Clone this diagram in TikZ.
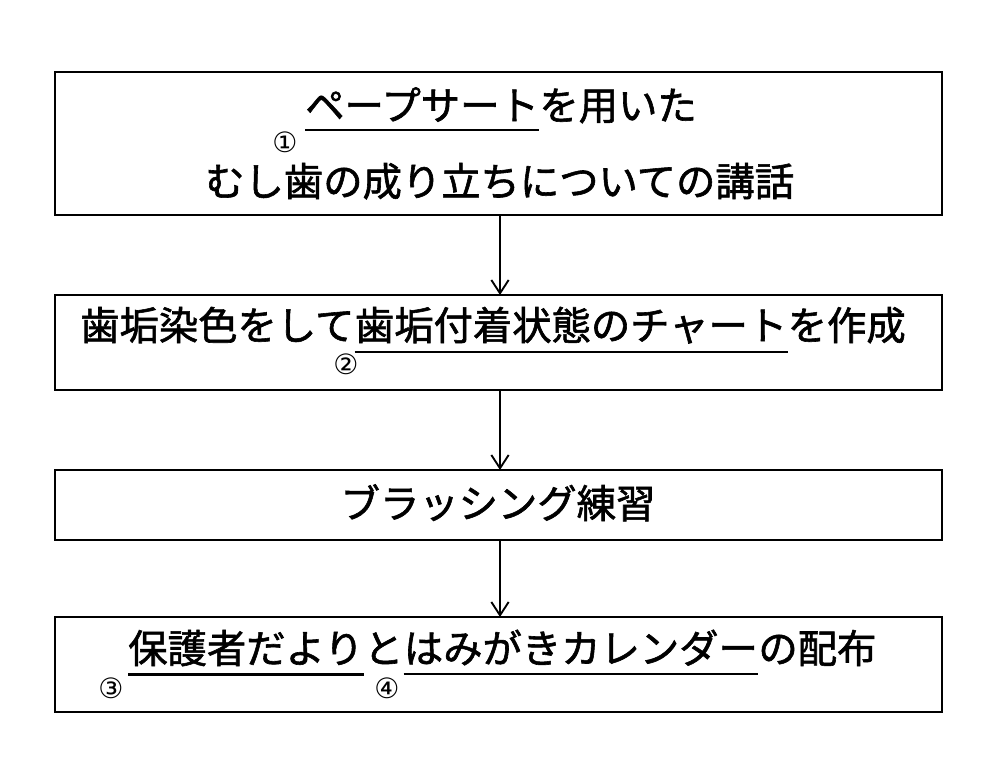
\documentclass[tikz,border=0pt]{standalone}
\usepackage{fontspec}
\usetikzlibrary{arrows.meta}
\newfontfamily\jp[FakeBold=1.5]{Noto Sans CJK JP}
\newfontfamily\dv{DejaVu Sans}
\begin{document}
\begin{tikzpicture}[x=0.75pt,y=-0.75pt,
 box/.style={draw,line width=1.6pt},
 t/.style={font=\jp\fontsize{29.5}{29.5}\selectfont,inner sep=0pt,anchor=base west},
 c/.style={font=\dv\fontsize{21}{21}\selectfont,inner sep=0pt},
 ul/.style={line width=1.6pt},
 ar/.style={-{Straight Barb[length=10pt,width=13pt]},line width=1.4pt}]
\useasboundingbox (0,0) rectangle (1000,767);
\draw[box] (55,72) rectangle (942,215);
\draw[box] (55,295) rectangle (942,390);
\draw[box] (55,470) rectangle (942,540);
\draw[box] (55,617) rectangle (942,712);
\coordinate (b1) at (500,215); \coordinate (t2) at (500,295);
\coordinate (b2) at (500,390); \coordinate (t3) at (500,470);
\coordinate (b3) at (500,540); \coordinate (t4) at (500,617);
\draw[ar] (b1)--(t2); \draw[ar] (b2)--(t3); \draw[ar] (b3)--(t4);
% box1
\node[t] (a1) at (305,120) {ペープサート};
\node[t] (a2) at (a1.base east) {を用いた};
\draw[ul] ([yshift=-6pt]a1.south west) -- ([yshift=-6pt]a1.south east);
\node[c] (n1) at (285,142) {①};
\node[t] (a3) at (205,196) {むし歯の成り立ちについての講話};
% box2
\node[t] (b1t) at (80,340) {歯垢染色をして};
\node[t] (b2t) at (b1t.base east) {歯垢付着状態のチャート};
\node[t] (b3t) at (b2t.base east) {を作成};
\draw[ul] ([yshift=-6pt]b2t.south west) -- ([yshift=-6pt]b2t.south east);
\node[c] (n2) at (346,364) {②};
% box3
\node[t,anchor=base] (c1) at (498,518) {ブラッシング練習};
% box4
\node[t] (d1) at (128,663) {保護者だより};
\node[t] (d2) at (d1.base east) {と};
\node[t] (d3) at (d2.base east) {はみがきカレンダー};
\node[t] (d4) at (d3.base east) {の配布};
\draw[ul] ([yshift=-6pt]d1.south west) -- ([yshift=-6pt]d1.south east);
\draw[ul] ([yshift=-6pt]d3.south west) -- ([yshift=-6pt]d3.south east);
\node[c] (n3) at (111,688) {③};
\node[c] (n4) at (387,688) {④};
\end{tikzpicture}
\end{document}
